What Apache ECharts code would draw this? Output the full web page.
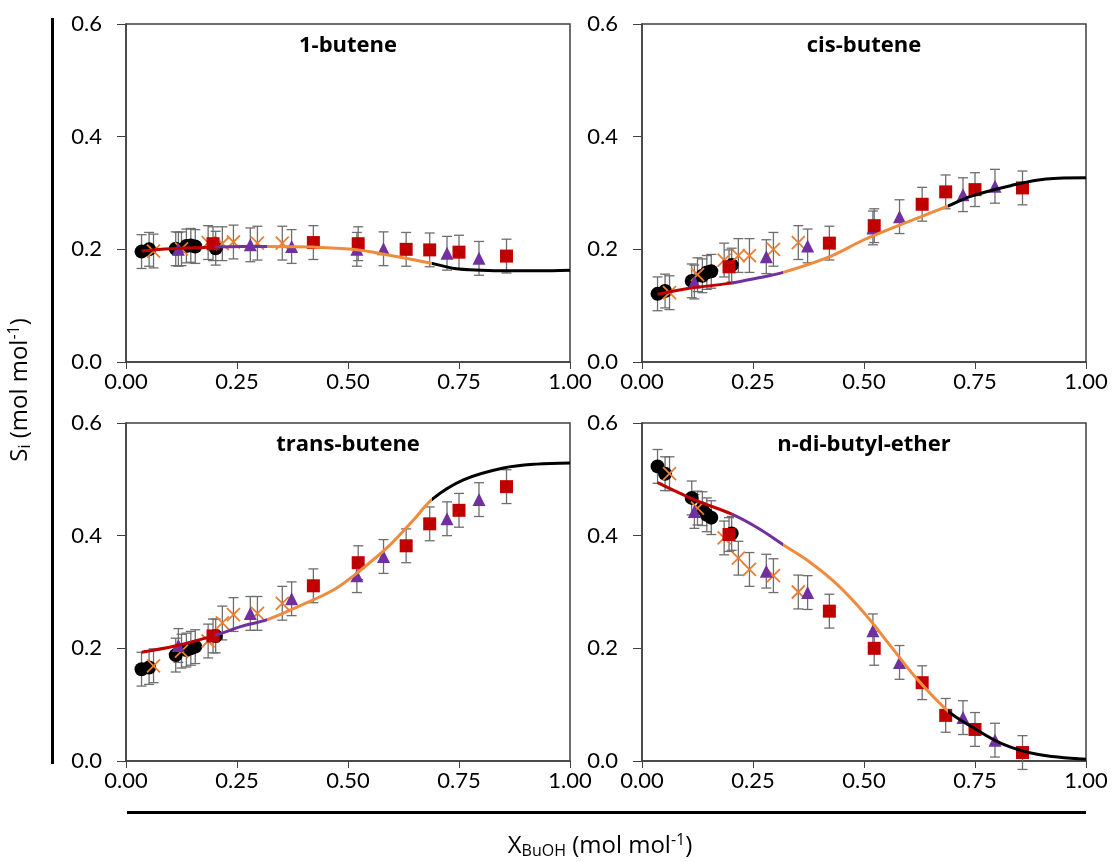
<!DOCTYPE html>
<html>
<head>
<meta charset="utf-8">
<script src="https://cdn.jsdelivr.net/npm/echarts@6/dist/echarts.min.js"></script>
<style>
  body { margin: 0; background: #fff; }
  #chart { width: 1114px; height: 862px; }
</style>
</head>
<body>
<div id="chart"></div>
<script>
// X_BuOH of each experiment set (same in every panel)
const circleX = [0.035, 0.052, 0.112, 0.136, 0.146, 0.156, 0.202]
const crossX = [0.062, 0.125, 0.185, 0.217, 0.242, 0.296, 0.352]
const triangleX = [0.118, 0.28, 0.373, 0.52, 0.58, 0.723, 0.795]
const squareX = [0.196, 0.422, 0.523, 0.631, 0.684, 0.75, 0.857]

// 1-butene
const butene1Circle = [0.196, 0.2, 0.201, 0.206, 0.207, 0.205, 0.202]
const butene1Cross = [0.197, 0.201, 0.212, 0.21, 0.213, 0.211, 0.211]
const butene1Triangle = [0.2, 0.208, 0.205, 0.2, 0.201, 0.193, 0.184]
const butene1Square = [0.21, 0.212, 0.21, 0.2, 0.199, 0.195, 0.188]
const butene1FitX = [0.035, 0.1, 0.2, 0.26, 0.318, 0.42, 0.51, 0.59, 0.69, 0.74, 0.8, 0.86, 0.93, 1.0]
const butene1FitY = [0.197, 0.201, 0.204, 0.205, 0.205, 0.204, 0.2, 0.19, 0.175, 0.166, 0.163, 0.162, 0.162, 0.163]

// cis-butene
const cisCircle = [0.121, 0.126, 0.144, 0.153, 0.159, 0.161, 0.172]
const cisCross = [0.123, 0.155, 0.181, 0.189, 0.189, 0.2, 0.212]
const cisTriangle = [0.142, 0.187, 0.206, 0.238, 0.258, 0.297, 0.312]
const cisSquare = [0.169, 0.211, 0.242, 0.28, 0.302, 0.306, 0.309]
const cisFitX = [0.035, 0.1, 0.2, 0.26, 0.318, 0.42, 0.5, 0.58, 0.69, 0.74, 0.83, 0.91, 1.0]
const cisFitY = [0.12, 0.13, 0.14, 0.149, 0.159, 0.186, 0.217, 0.243, 0.277, 0.294, 0.313, 0.325, 0.327]

// trans-butene
const transCircle = [0.163, 0.166, 0.188, 0.197, 0.2, 0.203, 0.222]
const transCross = [0.169, 0.195, 0.213, 0.245, 0.26, 0.262, 0.28]
const transTriangle = [0.205, 0.262, 0.288, 0.329, 0.363, 0.43, 0.464]
const transSquare = [0.222, 0.311, 0.352, 0.382, 0.421, 0.445, 0.487]
const transFitX = [0.035, 0.11, 0.2, 0.26, 0.318, 0.39, 0.47, 0.53, 0.59, 0.65, 0.69, 0.76, 0.85, 0.925, 1.0]
const transFitY = [0.193, 0.204, 0.223, 0.239, 0.251, 0.275, 0.305, 0.34, 0.38, 0.43, 0.465, 0.499, 0.52, 0.527, 0.529]

// n-di-butyl-ether
const etherCircle = [0.523, 0.51, 0.467, 0.448, 0.437, 0.432, 0.404]
const etherCross = [0.51, 0.449, 0.396, 0.36, 0.34, 0.329, 0.3]
const etherTriangle = [0.443, 0.337, 0.299, 0.231, 0.175, 0.077, 0.037]
const etherSquare = [0.402, 0.266, 0.2, 0.139, 0.081, 0.056, 0.015]
const etherFitX = [0.035, 0.12, 0.2, 0.26, 0.318, 0.38, 0.44, 0.5, 0.56, 0.62, 0.69, 0.74, 0.81, 0.89, 1.0]
const etherFitY = [0.494, 0.463, 0.439, 0.414, 0.384, 0.352, 0.313, 0.263, 0.204, 0.145, 0.088, 0.062, 0.031, 0.012, 0.003]

const ERR = 0.03
const fitBreaks = [0.2, 0.318, 0.69]

const panels = [
  { title: '1-butene', circle: butene1Circle, cross: butene1Cross, tri: butene1Triangle, sq: butene1Square, fitX: butene1FitX, fitY: butene1FitY },
  { title: 'cis-butene', circle: cisCircle, cross: cisCross, tri: cisTriangle, sq: cisSquare, fitX: cisFitX, fitY: cisFitY },
  { title: 'trans-butene', circle: transCircle, cross: transCross, tri: transTriangle, sq: transSquare, fitX: transFitX, fitY: transFitY },
  { title: 'n-di-butyl-ether', circle: etherCircle, cross: etherCross, tri: etherTriangle, sq: etherSquare, fitX: etherFitX, fitY: etherFitY }
]

const segColors = ['#C00000', '#7030A0', '#F08A3C', '#000000']
const boxes = [
  { left: 126, top: 24 }, { left: 642, top: 24 },
  { left: 126, top: 423 }, { left: 642, top: 423 }
]
const W = 444, H = 338
const font = 'Lato, "Noto Sans", sans-serif'
const titleFont = '"Open Sans", "Noto Sans", sans-serif'
const axisColor = '#404040'

function pairs(xs, ys) {
  return xs.map((x, i) => [x, ys[i]])
}

let chart = echarts.init(document.getElementById('chart'))

let grid = [], xAxis = [], yAxis = [], series = [], graphic = [], visualMap = []

panels.forEach((p, k) => {
  grid.push({
    left: boxes[k].left, top: boxes[k].top, width: W, height: H,
    show: true, borderColor: axisColor, borderWidth: 1.5, backgroundColor: 'transparent'
  })
  xAxis.push({
    gridIndex: k, type: 'value', min: 0, max: 1, interval: 0.25,
    axisLine: { show: true, lineStyle: { color: axisColor, width: 1.5 } },
    axisTick: { show: true, length: 7, lineStyle: { color: axisColor } },
    splitLine: { show: false },
    axisLabel: { color: '#000', fontSize: 22, fontFamily: font, margin: 9,
      formatter: v => v.toFixed(2) }
  })
  yAxis.push({
    gridIndex: k, type: 'value', min: 0, max: 0.6, interval: 0.2,
    axisLine: { show: true, lineStyle: { color: axisColor, width: 1.5 } },
    axisTick: { show: true, length: 9, lineStyle: { color: axisColor } },
    splitLine: { show: false },
    axisLabel: { color: '#000', fontSize: 22, fontFamily: font, margin: 24,
      formatter: v => v.toFixed(1) }
  })

  // error bars
  let allPts = pairs(circleX, p.circle).concat(pairs(crossX, p.cross), pairs(triangleX, p.tri), pairs(squareX, p.sq))
  series.push({
    type: 'custom', xAxisIndex: k, yAxisIndex: k, z: 2, silent: true,
    data: allPts,
    renderItem: function(params, api) {
      let x = api.value(0), y = api.value(1)
      let top = api.coord([x, y + ERR])
      let bot = api.coord([x, y - ERR])
      let st = { stroke: '#6e6e6e', lineWidth: 1.3 }
      return {
        type: 'group',
        children: [
          { type: 'line', shape: { x1: top[0], y1: top[1], x2: bot[0], y2: bot[1] }, style: st },
          { type: 'line', shape: { x1: top[0] - 5, y1: top[1], x2: top[0] + 5, y2: top[1] }, style: st },
          { type: 'line', shape: { x1: bot[0] - 5, y1: bot[1], x2: bot[0] + 5, y2: bot[1] }, style: st }
        ]
      }
    }
  })

  // markers
  series.push({ type: 'scatter', xAxisIndex: k, yAxisIndex: k, z: 3, symbol: 'circle', symbolSize: 14,
    itemStyle: { color: '#000', opacity: 1 }, data: pairs(circleX, p.circle) })
  series.push({ type: 'scatter', xAxisIndex: k, yAxisIndex: k, z: 3, symbol: 'path://M0,0L10,10M10,0L0,10', symbolSize: 13,
    itemStyle: { color: 'rgba(0,0,0,0)', borderColor: '#ED7D31', borderWidth: 1.8, opacity: 1 }, data: pairs(crossX, p.cross) })
  series.push({ type: 'scatter', xAxisIndex: k, yAxisIndex: k, z: 3, symbol: 'triangle', symbolSize: 13,
    itemStyle: { color: '#7030A0', opacity: 1 }, data: pairs(triangleX, p.tri) })
  series.push({ type: 'scatter', xAxisIndex: k, yAxisIndex: k, z: 3, symbol: 'rect', symbolSize: 13,
    itemStyle: { color: '#C00000', opacity: 1 }, data: pairs(squareX, p.sq) })

  // fitted curve, one smooth line coloured in four parts along x
  series.push({
    type: 'line', xAxisIndex: k, yAxisIndex: k, z: 4,
    showSymbol: false, smooth: 0.35,
    lineStyle: { width: 3 },
    data: pairs(p.fitX, p.fitY)
  })
  visualMap.push({
    type: 'piecewise', show: false, dimension: 0, seriesIndex: series.length - 1,
    pieces: [
      { lt: fitBreaks[0], color: segColors[0] },
      { gte: fitBreaks[0], lt: fitBreaks[1], color: segColors[1] },
      { gte: fitBreaks[1], lt: fitBreaks[2], color: segColors[2] },
      { gte: fitBreaks[2], color: segColors[3] }
    ]
  })

  graphic.push({
    type: 'text', x: boxes[k].left + W / 2, y: boxes[k].top + 22,
    style: { text: p.title, font: 'bold 22px ' + titleFont, fill: '#000', align: 'center', verticalAlign: 'middle' }
  })
})

// outer axis titles and their bars
graphic.push(
  { type: 'rect', shape: { x: 51, y: 18, width: 3, height: 746 }, style: { fill: '#000' } },
  { type: 'rect', shape: { x: 127, y: 811, width: 959, height: 3 }, style: { fill: '#000' } },
  {
    type: 'text', x: 20, y: 390, rotation: Math.PI / 2,
    style: {
      text: 'S{sub|i} (mol mol{sup|-1})', font: '24px ' + titleFont, fill: '#000',
      align: 'center', verticalAlign: 'middle',
      rich: {
        sub: { fontSize: 16, fontFamily: titleFont, verticalAlign: 'bottom', padding: [11, 0, 0, 0] },
        sup: { fontSize: 16, fontFamily: titleFont, verticalAlign: 'top', padding: [0, 0, 9, 0] }
      }
    }
  },
  {
    type: 'text', x: 600, y: 846,
    style: {
      text: 'X{sub|BuOH} (mol mol{sup|-1})', font: '24px ' + titleFont, fill: '#000',
      align: 'center', verticalAlign: 'middle',
      rich: {
        sub: { fontSize: 16, fontFamily: titleFont, verticalAlign: 'bottom', padding: [11, 0, 0, 0] },
        sup: { fontSize: 16, fontFamily: titleFont, verticalAlign: 'top', padding: [0, 0, 9, 0] }
      }
    }
  }
)

chart.setOption({
  animation: false,
  backgroundColor: '#fff',
  grid: grid,
  xAxis: xAxis,
  yAxis: yAxis,
  visualMap: visualMap,
  series: series,
  graphic: graphic
})
</script>
</body>
</html>
